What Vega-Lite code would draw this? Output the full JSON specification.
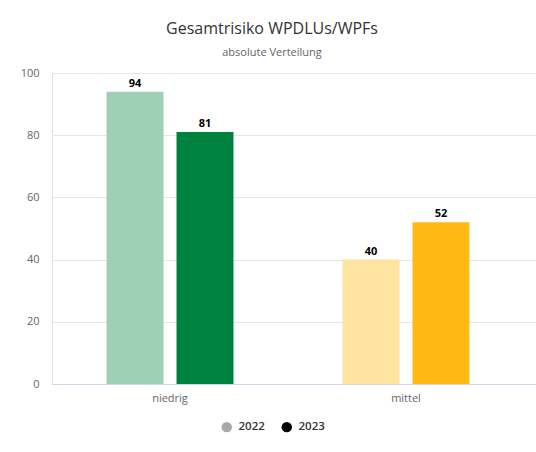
{
  "$schema": "https://vega.github.io/schema/vega-lite/v6.json",
  "autosize": {"type": "none"},
  "padding": {"left": 52, "top": 73, "right": 0, "bottom": 68},
  "width": 484,
  "height": 311,
  "background": "#ffffff",
  "title": {
    "text": "Gesamtrisiko WPDLUs/WPFs",
    "subtitle": "absolute Verteilung",
    "anchor": "middle",
    "dx": -22,
    "offset": 9,
    "font": "Open Sans",
    "fontSize": 16,
    "fontWeight": "normal",
    "color": "#333333",
    "subtitleFont": "Open Sans",
    "subtitleFontSize": 11,
    "subtitleColor": "#666666",
    "subtitlePadding": 10
  },
  "data": {
    "values": [
      {"stufe": "niedrig", "jahr": "2022", "wert": 94},
      {"stufe": "niedrig", "jahr": "2023", "wert": 81},
      {"stufe": "mittel", "jahr": "2022", "wert": 40},
      {"stufe": "mittel", "jahr": "2023", "wert": 52}
    ]
  },
  "transform": [
    {"calculate": "datum.stufe + ' ' + datum.jahr", "as": "gruppe"}
  ],
  "encoding": {
    "x": {
      "field": "stufe",
      "type": "nominal",
      "sort": ["niedrig", "mittel"],
      "scale": {"paddingInner": 0, "paddingOuter": 0.0254, "align": 0},
      "axis": {
        "title": null,
        "labelAngle": 0,
        "ticks": false,
        "domainColor": "#ccd6eb",
        "domainWidth": 1,
        "labelColor": "#666666",
        "labelFont": "Open Sans",
        "labelFontSize": 11,
        "labelPadding": 8,
        "grid": false
      }
    },
    "xOffset": {
      "field": "jahr",
      "type": "nominal",
      "sort": ["2022", "2023"],
      "scale": {"paddingInner": 0.186, "paddingOuter": 0.779}
    },
    "y": {
      "field": "wert",
      "type": "quantitative",
      "scale": {"domain": [0, 100], "nice": false},
      "axis": {
        "title": null,
        "values": [0, 20, 40, 60, 80, 100],
        "domain": false,
        "ticks": false,
        "gridColor": "#e6e6e6",
        "gridWidth": 1,
        "labelColor": "#666666",
        "labelFont": "Open Sans",
        "labelFontSize": 11,
        "labelPadding": 13
      }
    }
  },
  "layer": [
    {
      "mark": {"type": "bar"},
      "encoding": {
        "color": {
          "field": "gruppe",
          "type": "nominal",
          "scale": {
            "domain": ["niedrig 2022", "niedrig 2023", "mittel 2022", "mittel 2023"],
            "range": ["#9fcfb4", "#00823f", "#ffe3a0", "#ffb915"]
          },
          "legend": null
        }
      }
    },
    {
      "mark": {"type": "text", "dy": -8, "font": "Open Sans", "fontSize": 11, "fontWeight": "bold", "color": "#000000"},
      "encoding": {"text": {"field": "wert", "type": "quantitative"}}
    },
    {
      "mark": {"type": "point", "filled": true, "opacity": 0},
      "encoding": {
        "fill": {
          "field": "jahr",
          "type": "nominal",
          "scale": {"domain": ["2022", "2023"], "range": ["#a8a8a8", "#000000"]},
          "legend": {
            "title": null,
            "orient": "none",
            "direction": "horizontal",
            "legendX": 169,
            "legendY": 348,
            "symbolType": "circle",
            "symbolSize": 110,
            "symbolOpacity": 1,
            "symbolStrokeWidth": 0,
            "columnPadding": 16,
            "labelFont": "Open Sans",
            "labelFontSize": 11.5,
            "labelFontWeight": 600,
            "labelColor": "#333333",
            "labelOffset": 6,
            "encode": {"symbols": {"update": {"opacity": {"value": 1}}}}
          }
        }
      }
    }
  ]
}
